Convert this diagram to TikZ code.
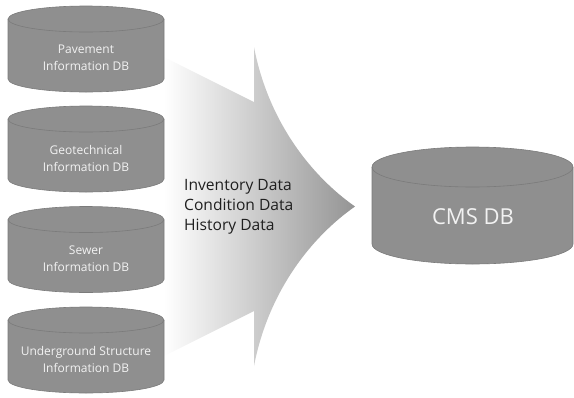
\documentclass[tikz,border=0pt]{standalone}
\usepackage{fontspec}
\setmainfont{Open Sans}
\usepackage{xcolor}

\definecolor{dbgray}{HTML}{8F8F8F}
\definecolor{dbline}{HTML}{7B7B7B}
\definecolor{dbtext}{HTML}{F2F2F2}

\tikzset{
  dbbody/.style={fill=dbgray, draw=dbline, line width=0.6pt},
  dbrim/.style={draw=dbline, line width=0.6pt},
  dblabel/.style={text=dbtext, align=center, inner sep=0pt, font=\fontsize{12}{17}\selectfont},
  flowlabel/.style={text=black!88, align=left, inner sep=0pt, font=\fontsize{15.6}{20}\selectfont},
}

\begin{document}
\begin{tikzpicture}[x=1pt,y=-1pt]
\useasboundingbox (0,0) rectangle (574,397);

% big arrow behind the source DBs
\shade[left color=white, right color=black!42]
  (164,57) -- (254,102) -- (254,47)
  .. controls (268,120) and (310,175) .. (355,206.5)
  .. controls (310,238) and (268,293) .. (254,366)
  -- (254,311) -- (164,356) -- cycle;

% source DBs
\foreach \cy/\nm/\txt in {49/pav/{Pavement\\Information DB},
                          149/geo/{Geotechnical\\Information DB},
                          249.5/sew/{Sewer\\Information DB},
                          350/und/{Underground Structure\\Information DB}}{
  \draw[dbbody] (8,\cy-30) -- (8,\cy+30)
    arc[start angle=180, end angle=0, x radius=78, y radius=13]
    -- (164,\cy-30)
    arc[start angle=0, end angle=-180, x radius=78, y radius=13] -- cycle;
  \draw[dbrim] (8,\cy-30) arc[start angle=180, end angle=0, x radius=78, y radius=13];
  \node[dblabel] (\nm) at (86,\cy+9) {\txt};
}

% target DB
\draw[dbbody] (372,167) -- (372,244)
  arc[start angle=180, end angle=0, x radius=100.5, y radius=20]
  -- (573,167)
  arc[start angle=0, end angle=-180, x radius=100.5, y radius=20] -- cycle;
\draw[dbrim] (372,167) arc[start angle=180, end angle=0, x radius=100.5, y radius=20];
\node[dblabel, font=\fontsize{22}{26}\selectfont] (cms) at (473,217) {CMS DB};

% what flows
\node[flowlabel, anchor=west] (flow) at (184,207) {Inventory Data\\Condition Data\\History Data};

\end{tikzpicture}
\end{document}
